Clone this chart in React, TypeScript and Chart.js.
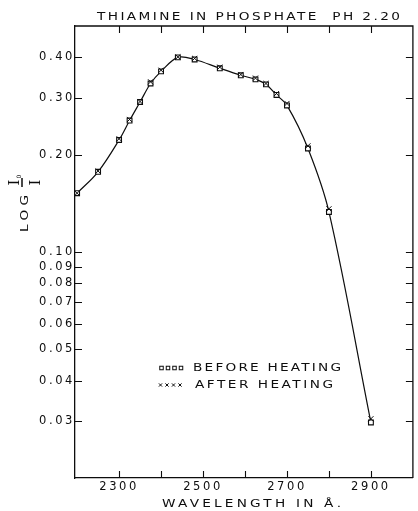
import React, { useEffect, useRef } from 'react';
import { Chart, registerables } from 'chart.js';

Chart.register(...registerables);

// ---- data ----
const wavelengths = [2200, 2250, 2300, 2325, 2350, 2375, 2400, 2440, 2480, 2540, 2590, 2625, 2650, 2675, 2700, 2750, 2800, 2900];
const beforeHeating = [0.152, 0.177, 0.222, 0.255, 0.291, 0.332, 0.362, 0.400, 0.394, 0.370, 0.352, 0.342, 0.330, 0.306, 0.284, 0.209, 0.133, 0.0297];
const afterHeating = [0.152, 0.178, 0.224, 0.257, 0.292, 0.336, 0.365, 0.401, 0.397, 0.373, 0.354, 0.345, 0.332, 0.309, 0.288, 0.213, 0.136, 0.0305];

const yTickValues = [0.03, 0.04, 0.05, 0.06, 0.07, 0.08, 0.09, 0.10, 0.20, 0.30, 0.40];
const xTickMarks = [2300, 2400, 2500, 2600, 2700, 2800, 2900];
const xTickLabels = [2300, 2500, 2700, 2900];

const titleText = 'THIAMINE IN PHOSPHATE  PH 2.20';
const xTitleText = 'WAVELENGTH IN Å.';
const yTitleWord = 'LOG';
const yTitleNum = 'I';
const yTitleSub = '0';
const yTitleDen = 'I';
const legendBefore = 'BEFORE HEATING';
const legendAfter = 'AFTER HEATING';

const INK = '#0d0d0d';
const FONT = '"DejaVu Sans", sans-serif';

// draws text stretched horizontally by sx, fitted into [x0, x1]
function drawSpaced(ctx: CanvasRenderingContext2D, text: string, x0: number, x1: number, yMid: number, size: number, sx = 1.3) {
  ctx.save();
  ctx.font = `${size}px ${FONT}`;
  (ctx as any).letterSpacing = '0px';
  const w = ctx.measureText(text).width;
  const n = Array.from(text).length;
  const ls = n > 1 ? ((x1 - x0) / sx - w) / (n - 1) : 0;
  (ctx as any).letterSpacing = Math.max(0, ls) + 'px';
  ctx.translate(x0, yMid);
  ctx.scale(sx, 1);
  ctx.textAlign = 'left';
  ctx.textBaseline = 'middle';
  ctx.fillStyle = INK;
  ctx.fillText(text, 0, 0);
  ctx.restore();
}

const paperPlugin = {
  id: 'paper',
  beforeDraw(chart: any) {
    const ctx = chart.ctx as CanvasRenderingContext2D;
    (ctx as any).letterSpacing = '2.6px';
  },
  afterDraw(chart: any) {
    const ctx = chart.ctx as CanvasRenderingContext2D;
    const a = chart.chartArea;
    const xs = chart.scales.x;
    const ys = chart.scales.y;
    ctx.save();
    (ctx as any).letterSpacing = '0px';
    ctx.strokeStyle = INK;
    ctx.lineWidth = 1.3;
    // top and right frame
    ctx.beginPath();
    ctx.moveTo(a.left, a.top);
    ctx.lineTo(a.right, a.top);
    ctx.lineTo(a.right, a.bottom);
    ctx.stroke();
    // inward tick marks
    ctx.lineWidth = 1.1;
    const tl = 7;
    ctx.beginPath();
    for (const v of xTickMarks) {
      const px = Math.round(xs.getPixelForValue(v)) + 0.5;
      ctx.moveTo(px, a.bottom);
      ctx.lineTo(px, a.bottom - tl);
      ctx.moveTo(px, a.top);
      ctx.lineTo(px, a.top + tl);
    }
    for (const v of yTickValues) {
      const py = Math.round(ys.getPixelForValue(v)) + 0.5;
      ctx.moveTo(a.left, py);
      ctx.lineTo(a.left + tl, py);
      ctx.moveTo(a.right, py);
      ctx.lineTo(a.right - tl, py);
    }
    ctx.stroke();
    ctx.restore();

    // title and x title
    drawSpaced(ctx, titleText, 97, 400, 17, 10.5);
    drawSpaced(ctx, xTitleText, 162, 341, 504, 10.5);

    // legend
    drawSpaced(ctx, legendBefore, 193, 341, 368, 10.5);
    drawSpaced(ctx, legendAfter, 195, 333, 385, 10.5);
    ctx.save();
    ctx.strokeStyle = INK;
    ctx.lineWidth = 1;
    for (const cx of [161.5, 168, 174.5, 181]) {
      ctx.strokeRect(cx - 1.75, 368 - 1.75, 3.5, 3.5);
    }
    ctx.beginPath();
    for (const cx of [160.5, 167, 173.5, 180]) {
      ctx.moveTo(cx - 1.6, 385 - 1.6);
      ctx.lineTo(cx + 1.6, 385 + 1.6);
      ctx.moveTo(cx + 1.6, 385 - 1.6);
      ctx.lineTo(cx - 1.6, 385 + 1.6);
    }
    ctx.stroke();
    ctx.restore();

    // y title: LOG I0/I rotated
    ctx.save();
    ctx.translate(25, 232);
    ctx.rotate(-Math.PI / 2);
    drawSpaced(ctx, yTitleWord, 0, 37, 0, 10.5);
    ctx.restore();

    ctx.save();
    ctx.fillStyle = INK;
    ctx.strokeStyle = INK;
    ctx.translate(22, 182.5);
    ctx.rotate(-Math.PI / 2);
    (ctx as any).letterSpacing = '0px';
    ctx.lineWidth = 1.5;
    ctx.beginPath();
    ctx.moveTo(-4.5, 0);
    ctx.lineTo(4.5, 0);
    ctx.stroke();
    ctx.font = `15px "DejaVu Serif", serif`;
    ctx.textAlign = 'center';
    ctx.textBaseline = 'alphabetic';
    ctx.fillText(yTitleNum, 0, -3);
    ctx.fillText(yTitleDen, 0, 18);
    ctx.font = `6px ${FONT}`;
    ctx.textBaseline = 'middle';
    ctx.fillText(yTitleSub, 6, -3);
    ctx.restore();
  },
};

export default function App() {
  const canvasRef = useRef<HTMLCanvasElement | null>(null);

  useEffect(() => {
    const canvas = canvasRef.current;
    if (!canvas) return;
    const tickFont = { family: FONT, size: 11.5 };
    const chart = new Chart(canvas, {
      type: 'line',
      data: {
        datasets: [
          {
            label: legendAfter,
            data: wavelengths.map((w, i) => ({ x: w, y: afterHeating[i] })),
            showLine: false,
            pointStyle: 'crossRot',
            pointRadius: 3.6,
            pointBorderColor: INK,
            pointBorderWidth: 1,
            borderColor: INK,
            order: 0,
          },
          {
            label: legendBefore,
            data: wavelengths.map((w, i) => ({ x: w, y: beforeHeating[i] })),
            showLine: true,
            tension: 0.35,
            borderColor: INK,
            borderWidth: 1.2,
            pointStyle: 'rect',
            pointRadius: 3.4,
            pointBorderColor: INK,
            pointBackgroundColor: '#ffffff',
            pointBorderWidth: 1.1,
            fill: false,
            order: 1,
          },
        ],
      },
      options: {
        responsive: true,
        maintainAspectRatio: false,
        animation: false,
        layout: { padding: { top: 26, right: 2, left: 0, bottom: 0 } },
        plugins: {
          legend: { display: false },
          tooltip: { enabled: false },
          title: { display: false },
        },
        scales: {
          x: {
            type: 'linear',
            min: 2195,
            max: 3000,
            afterFit(s: any) { s.height = 33; },
            afterBuildTicks(s: any) { s.ticks = xTickLabels.map((v) => ({ value: v })); },
            grid: { display: false, drawTicks: false },
            border: { display: true, color: INK, width: 1.3 },
            ticks: {
              color: INK,
              font: tickFont,
              padding: 2,
              autoSkip: false,
              maxRotation: 0,
              callback: (v: any) => String(v),
            },
          },
          y: {
            type: 'logarithmic',
            min: 0.02,
            max: 0.5,
            afterFit(s: any) { s.width = 75; },
            afterBuildTicks(s: any) { s.ticks = yTickValues.map((v) => ({ value: v })); },
            grid: { display: false, drawTicks: false },
            border: { display: true, color: INK, width: 1.3 },
            ticks: {
              color: INK,
              font: tickFont,
              padding: 0,
              autoSkip: false,
              callback: (v: any) => Number(v).toFixed(2),
            },
          },
        },
      },
      plugins: [paperPlugin],
    } as any);
    return () => chart.destroy();
  }, []);

  return (
    <div style={{ position: 'fixed', left: 0, top: 0, width: 418, height: 511, background: '#ffffff' }}>
      <canvas ref={canvasRef} />
    </div>
  );
}
